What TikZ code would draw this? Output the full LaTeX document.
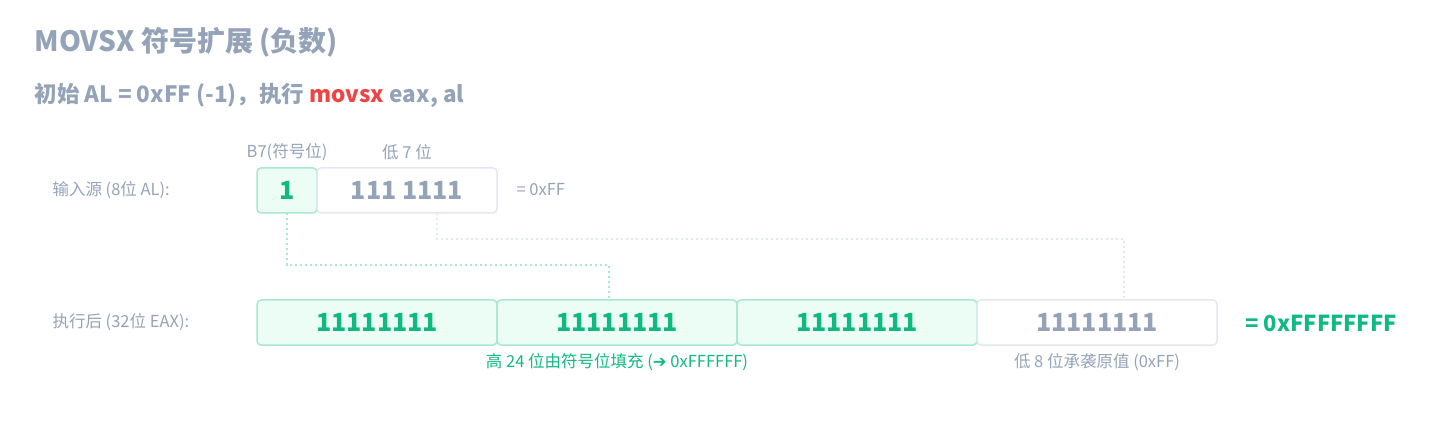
\documentclass[tikz,border=0pt]{standalone}
\usepackage{fontspec}
\setmainfont{Noto Sans CJK SC}
\newfontfamily\dvs{DejaVu Sans}
\definecolor{gt}{HTML}{94A3B8}
\definecolor{gr}{HTML}{10B981}
\definecolor{gfill}{HTML}{ECFDF5}
\definecolor{gbord}{HTML}{A7E8CF}
\definecolor{wbord}{HTML}{E2E8F0}
\definecolor{rd}{HTML}{EF4444}
\begin{document}
\begin{tikzpicture}[x=1pt,y=-1pt,
  gbox/.style={draw=gbord,fill=gfill,line width=1.5pt,rounded corners=4pt},
  wbox/.style={draw=wbord,fill=white,line width=1.5pt,rounded corners=4pt},
  lab/.style={font=\fontsize{16.5}{20}\selectfont,text=gt},
  gdot/.style={draw=gbord,line width=2.2pt,dash pattern=on 2.2pt off 2.8pt},
  wdot/.style={draw=wbord,line width=2.2pt,dash pattern=on 2.2pt off 2.8pt}]
\useasboundingbox (0,0) rectangle (1440,446);
\node[anchor=west,text=gt,font=\fontsize{28}{32}\bfseries\selectfont] (t) at (31,42) {MOVSX 符号扩展 (负数)};
\node[anchor=west,text=gt,font=\fontsize{22.5}{26}\bfseries\selectfont] (s) at (31,95) {初始 AL = 0xFF (-1)，执行 \textcolor{rd}{movsx} eax, al};
\node[lab,anchor=west] (l1) at (49,190) {输入源 (8位 AL):};
\node[lab,anchor=west] (l2) at (49,322) {执行后 (32位 EAX):};
\draw[gdot] (287,213) -- (287,265) -- (609,265) -- (609,300);
\draw[wdot] (437,213) -- (437,239) -- (1124,239) -- (1124,300);
\draw[gbox] (257,168) rectangle (317,213);
\node[text=gr,font=\fontsize{25}{28}\bfseries\selectfont] (b7) at (287,190) {1};
\draw[wbox] (317,168) rectangle (497,213);
\node[text=gt,font=\fontsize{25}{28}\bfseries\selectfont] (low) at (407,190) {111 1111};
\node[lab,anchor=west] (eq) at (513,190) {= 0xFF};
\node[lab] (h1) at (287,152) {B7(符号位)};
\node[lab] (h2) at (407,152) {低 7 位};
\foreach \i/\s in {0/gbox,1/gbox,2/gbox} {
  \draw[\s] (257+240*\i,300) rectangle (497+240*\i,345);
  \node[text=gr,font=\fontsize{25}{28}\bfseries\selectfont] (e\i) at (377+240*\i,322) {11111111};
}
\draw[wbox] (977,300) rectangle (1217,345);
\node[text=gt,font=\fontsize{25}{28}\bfseries\selectfont] (e3) at (1097,322) {11111111};
\node[anchor=west,text=gr,font=\fontsize{22}{26}\bfseries\selectfont] (res) at (1242,323) {= 0xFFFFFFFF};
\node[text=gr,font=\fontsize{16.5}{20}\selectfont] (c1) at (617,362) {高 24 位由符号位填充 ({\dvs ➔} 0xFFFFFF)};
\node[lab] (c2) at (1097,362) {低 8 位承袭原值 (0xFF)};
\end{tikzpicture}
\end{document}
